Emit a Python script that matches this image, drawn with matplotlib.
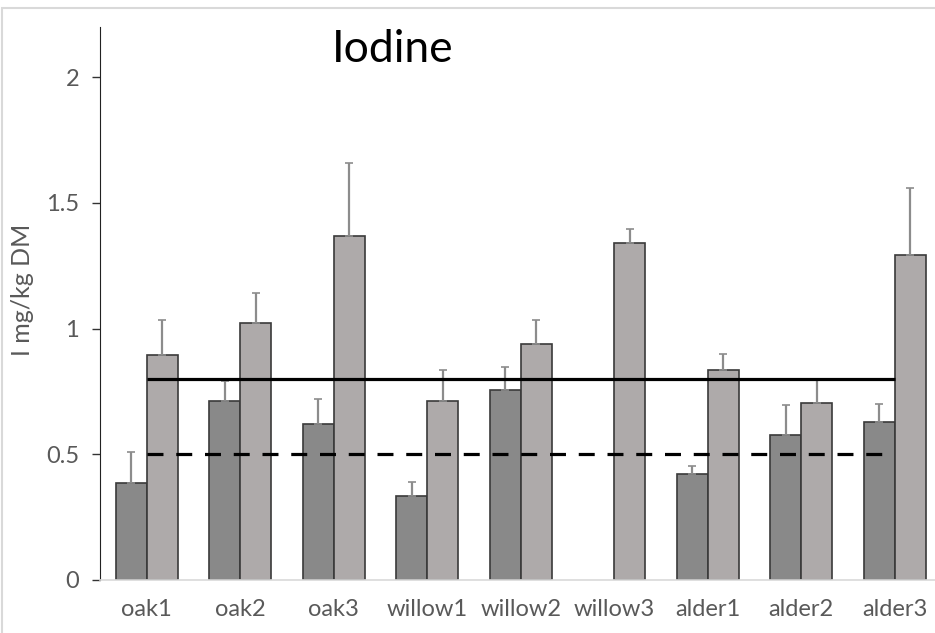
import numpy as np
import matplotlib.pyplot as plt
from matplotlib.patches import Rectangle

# data
categories = ["oak1", "oak2", "oak3", "willow1", "willow2", "willow3", "alder1", "alder2", "alder3"]
dark_vals = [0.387, 0.712, 0.622, 0.334, 0.756, np.nan, 0.422, 0.577, 0.629]
dark_err = [0.123, 0.078, 0.098, 0.056, 0.092, 0.0, 0.032, 0.121, 0.071]
light_vals = [0.895, 1.023, 1.370, 0.712, 0.940, 1.340, 0.836, 0.706, 1.293]
light_err = [0.140, 0.117, 0.290, 0.123, 0.095, 0.057, 0.064, 0.090, 0.268]
solid_level = 0.8
dashed_level = 0.5

plt.rcParams['font.family'] = ['Lato', 'DejaVu Sans']

fig = plt.figure(figsize=(9.35, 6.33), dpi=100)
ax = fig.add_axes([100 / 935, 53 / 633, 841.5 / 935, 553 / 633])

x = np.arange(len(categories))
w = 0.33
ebar = dict(ecolor="#8c8c8c", elinewidth=1.6, capsize=3, capthick=1.2)

ax.bar(x - w / 2, dark_vals, w, color="#898989", edgecolor="#3a3a3a", linewidth=1.2,
       yerr=[np.zeros(len(dark_err)), dark_err], error_kw=ebar, zorder=2)
ax.bar(x + w / 2, light_vals, w, color="#aeaaaa", edgecolor="#3a3a3a", linewidth=1.2,
       yerr=[np.zeros(len(light_err)), light_err], error_kw=ebar, zorder=2)

ax.hlines(solid_level, 0, 8, colors="black", linewidth=2.3, zorder=3)
ax.hlines(dashed_level, 0, 7.95, colors="black", linewidth=2.3, linestyles=(0, (5, 4)), zorder=3)

ax.set_xlim(-0.5, 8.5)
ax.set_ylim(0, 2.2)
ax.set_yticks([0, 0.5, 1, 1.5, 2])
ax.set_yticklabels(["0", "0.5", "1", "1.5", "2"])
ax.set_xticks(x)
ax.set_xticklabels(categories)
ax.tick_params(axis="y", direction="out", length=6, width=1, colors="#333333",
               labelcolor="#595959", labelsize=17, pad=9)
ax.tick_params(axis="x", length=0, labelcolor="#595959", labelsize=17, pad=14)

for s in ["top", "right"]:
    ax.spines[s].set_visible(False)
ax.spines["left"].set_color("#222222")
ax.spines["bottom"].set_color("#d9d9d9")
ax.spines["bottom"].set_linewidth(1.2)

ax.set_ylabel("I mg/kg DM", fontsize=18, color="#595959")
ax.yaxis.set_label_coords(-66 / 841.5, (580 - 290) / 553)

fig.text(393 / 935, 1 - 50 / 633, "Iodine", fontsize=32, ha="center", va="center", color="black")

# outer chart border
fig.patches.append(Rectangle((2 / 935, -0.1), 1.1, 1 - 8 / 633 + 0.1, transform=fig.transFigure,
                             fill=False, edgecolor="#d9d9d9", linewidth=1.5))

fig.savefig("out.png", dpi=100)
